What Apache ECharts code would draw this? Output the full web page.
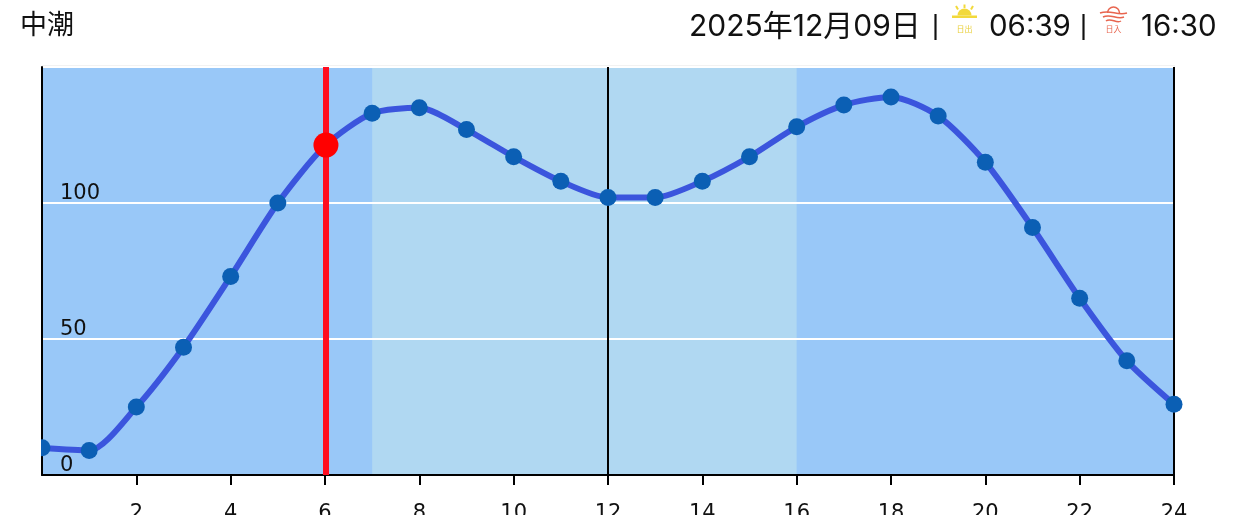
<!DOCTYPE html>
<html><head><meta charset="utf-8">
<style>html,body{margin:0;padding:0;background:#fff;overflow:hidden}#c{width:1236px;height:515px}</style>
<script src="https://cdn.jsdelivr.net/npm/echarts@6/dist/echarts.min.js"></script>
</head><body><div id="c"></div>
<script>
const hours=[0,1,2,3,4,5,6,7,8,9,10,11,12,13,14,15,16,17,18,19,20,21,22,23,24];
const tide=[10,9,25,47,73,100,121,133,135,127,117,108,102,102,108,117,128,136,139,132,115,91,65,42,26];
const nowPoint=[6.02,121.3];
const dayBand=[7,16];
const bandEdges=[0,24];
const noonLine=12;
const endLine=24;
const title='中潮';
const dateText='2025年12月09日';
const sunrise='06:39';
const sunset='16:30';
const font='Inter,"Noto Sans CJK JP",sans-serif';
const txt=(x,y,t,o={})=>({type:'text',x,y,silent:true,style:Object.assign({text:t,fill:'#111',font:'29.5px '+font,textVerticalAlign:'middle'},o)});
const chart=echarts.init(document.getElementById('c'),null,{renderer:'canvas'});
const sun=[
 {type:'rect',shape:{x:952,y:15.5,width:25,height:2.5},style:{fill:'#f2d93b'},silent:true},
 {type:'sector',shape:{cx:964.5,cy:15.5,r:7,startAngle:Math.PI,endAngle:2*Math.PI},style:{fill:'#f2d93b'},silent:true},
 {type:'line',shape:{x1:964.5,y1:4.5,x2:964.5,y2:8},style:{stroke:'#f2d93b',lineWidth:2},silent:true},
 {type:'line',shape:{x1:956,y1:6,x2:958,y2:9.5},style:{stroke:'#f2d93b',lineWidth:2},silent:true},
 {type:'line',shape:{x1:973,y1:6,x2:971,y2:9.5},style:{stroke:'#f2d93b',lineWidth:2},silent:true},
 txt(964.5,28.5,'日出',{fill:'#e9cf3a',font:'8px "Noto Sans CJK JP"',textAlign:'center'})
];
const wave=(y,x1,x2)=>({type:'bezierCurve',shape:{x1,y1:y,x2,y2:y,cpx1:(x1+x2)/2-3,cpy1:y-4,cpx2:(x1+x2)/2+3,cpy2:y+3},style:{stroke:'#e8654f',lineWidth:1.5,fill:'none'},silent:true});
const set=[
 {type:'arc',shape:{cx:1113.5,cy:13,r:6,startAngle:Math.PI,endAngle:2*Math.PI},style:{stroke:'#e8654f',lineWidth:1.5,fill:'none'},silent:true},
 wave(13,1100,1127),wave(17,1103,1124),wave(21,1106,1121),
 txt(1113.5,28.5,'日入',{fill:'#e8654f',font:'8px "Noto Sans CJK JP"',textAlign:'center'})
];
chart.setOption({
 animation:false,
 backgroundColor:'#fff',
 grid:{left:42,right:62,top:67,bottom:40,containLabel:false,outerBoundsMode:'none'},
 xAxis:{type:'value',min:0,max:24,interval:2,z:3,
  axisLine:{show:true,lineStyle:{color:'#000',width:2}},
  axisTick:{show:true,length:10,lineStyle:{color:'#000',width:2}},
  axisLabel:{show:true,showMinLabel:false,color:'#111',fontFamily:'DejaVu Sans',fontSize:21,margin:28},
  splitLine:{show:false}},
 yAxis:{type:'value',min:0,max:150,interval:50,z:3,
  axisLine:{show:true,onZero:false,lineStyle:{color:'#000',width:2}},
  axisTick:{show:false},
  axisLabel:{show:true,inside:true,showMaxLabel:false,color:'#111',fontFamily:'DejaVu Sans',fontSize:21,margin:18,verticalAlign:'bottom',lineHeight:18},
  splitLine:{show:true,lineStyle:{color:'#fff',width:2}}},
 series:[
  {type:'line',data:hours.map((h,i)=>[h,tide[i]]),smooth:0.25,symbol:'circle',symbolSize:17,
   lineStyle:{color:'#3b55dd',width:6},itemStyle:{color:'#0b5fb4'},z:5,
   markArea:{silent:true,z:1,data:[
    [{xAxis:bandEdges[0],itemStyle:{color:'#99c8f8',opacity:1}},{xAxis:bandEdges[1]}],
    [{xAxis:dayBand[0],itemStyle:{color:'#b0d8f2',opacity:1}},{xAxis:dayBand[1]}]
   ]},
   markLine:{silent:true,symbol:'none',z:4,label:{show:false},data:[
    {xAxis:noonLine,lineStyle:{color:'#000',width:2,type:'solid'}},
    {xAxis:endLine,lineStyle:{color:'#000',width:2,type:'solid'}}
   ]}},
  {type:'line',data:[nowPoint],symbol:'circle',symbolSize:25,itemStyle:{color:'#ff0000'},z:8,
   markLine:{silent:true,symbol:'none',z:7,label:{show:false},data:[
    {xAxis:nowPoint[0],lineStyle:{color:'#ff0d20',width:6,type:'solid'}}]}}
 ],
 graphic:[
  {type:'rect',shape:{x:42,y:65,width:1133,height:2},style:{fill:'#f2f2f2'},silent:true},
  {type:'rect',shape:{x:0,y:67,width:41,height:408},style:{fill:'#fff'},silent:true,z:100},
  txt(20,24,title,{font:'27px "Noto Sans CJK JP"'}),
  txt(689,27,dateText,{font:'30px '+font}),
  txt(932,27,'|',{font:'27px "Liberation Sans"'}),
  txt(989,27,sunrise),
  txt(1080,27,'|',{font:'27px "Liberation Sans"'}),
  txt(1141,27,sunset),
  ...sun,...set
 ]
});
</script></body></html>
